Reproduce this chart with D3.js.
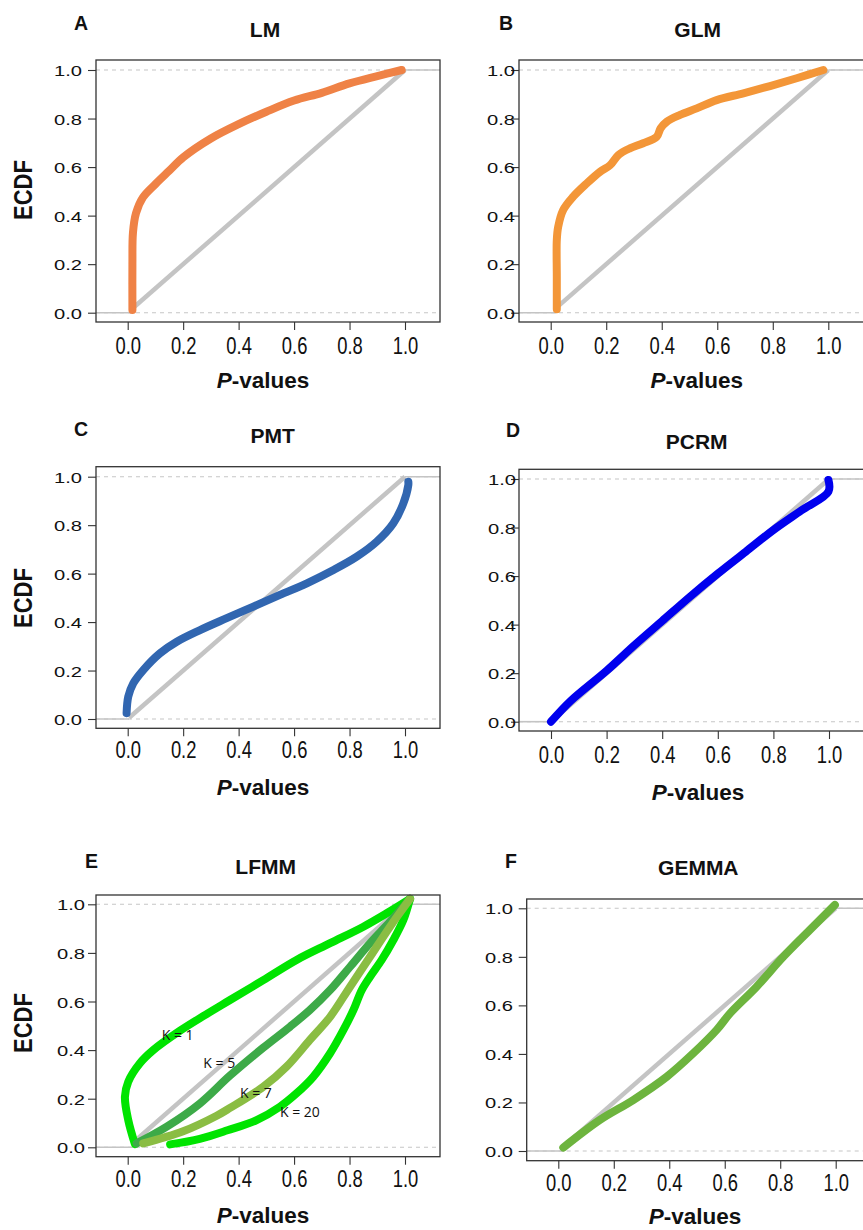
<!DOCTYPE html>
<html>
<head>
<meta charset="utf-8">
<script src="https://cdn.jsdelivr.net/npm/d3@7"></script>
<style>
  html, body { margin: 0; padding: 0; background: #fff; }
  svg { display: block; }
  text { font-family: "Liberation Sans", Arial, Helvetica, sans-serif; fill: #111; }
</style>
</head>
<body>
<svg id="chart" width="863" height="1230"></svg>
<script>
// ---------- data ----------
const xTicks = [0, 0.2, 0.4, 0.6, 0.8, 1.0];
const yTicks = [0, 0.2, 0.4, 0.6, 0.8, 1.0];
const panelLetters = ["A", "B", "C", "D", "E", "F"];
const panelTitles = ["LM", "GLM", "PMT", "PCRM", "LFMM", "GEMMA"];

const lmP  = [0.017, 0.017, 0.019, 0.03, 0.055, 0.1, 0.15, 0.2, 0.3, 0.4, 0.5, 0.6, 0.7, 0.8, 0.9, 0.988];
const lmF  = [0.011, 0.2, 0.33, 0.41, 0.475, 0.53, 0.585, 0.64, 0.718, 0.777, 0.828, 0.874, 0.906, 0.945, 0.975, 1.0];

const glmP = [0.022, 0.022, 0.022, 0.027, 0.045, 0.081, 0.13, 0.178, 0.214, 0.244, 0.285, 0.333, 0.382, 0.396, 0.418, 0.466, 0.526, 0.598, 0.694, 0.79, 0.886, 0.982];
const glmF = [0.014, 0.15, 0.3, 0.354, 0.423, 0.478, 0.533, 0.581, 0.608, 0.65, 0.677, 0.698, 0.725, 0.76, 0.787, 0.815, 0.842, 0.876, 0.904, 0.934, 0.966, 1.0];

const pmtP = [-0.004, 0.002, 0.02, 0.056, 0.116, 0.177, 0.261, 0.357, 0.453, 0.549, 0.646, 0.742, 0.826, 0.898, 0.958, 0.994, 1.012, 1.012];
const pmtF = [0.024, 0.092, 0.147, 0.202, 0.271, 0.319, 0.367, 0.416, 0.464, 0.512, 0.56, 0.615, 0.67, 0.732, 0.808, 0.89, 0.966, 0.979];

const pcrmP = [0, 0.07, 0.2, 0.3, 0.4, 0.5, 0.6, 0.7, 0.8, 0.9, 0.998, 0.998];
const pcrmF = [0, 0.085, 0.21, 0.315, 0.415, 0.515, 0.61, 0.7, 0.79, 0.87, 0.948, 0.996];

const k1P  = [0.026, 0.002, -0.01, 0.002, 0.044, 0.092, 0.189, 0.28, 0.369, 0.489, 0.609, 0.73, 0.85, 0.934, 1.018];
const k1F  = [0.013, 0.112, 0.208, 0.27, 0.346, 0.4, 0.48, 0.545, 0.606, 0.688, 0.771, 0.84, 0.908, 0.963, 1.022];
const k5P  = [0.032, 0.141, 0.26, 0.369, 0.489, 0.585, 0.657, 0.73, 0.802, 0.874, 0.946, 1.018];
const k5F  = [0.016, 0.085, 0.18, 0.295, 0.41, 0.496, 0.565, 0.647, 0.743, 0.84, 0.928, 1.022];
const k7P  = [0.056, 0.2, 0.321, 0.369, 0.489, 0.573, 0.657, 0.73, 0.802, 0.874, 0.946, 1.018];
const k7F  = [0.016, 0.066, 0.13, 0.162, 0.249, 0.332, 0.442, 0.537, 0.661, 0.784, 0.908, 1.022];
const k20P = [0.153, 0.26, 0.36, 0.465, 0.549, 0.609, 0.669, 0.73, 0.778, 0.814, 0.844, 0.874, 0.916, 0.958, 0.994, 1.018];
const k20F = [0.012, 0.035, 0.07, 0.112, 0.167, 0.222, 0.29, 0.387, 0.483, 0.565, 0.647, 0.702, 0.771, 0.853, 0.935, 1.022];
const kLabels = ["K = 1", "K = 5", "K = 7", "K = 20"];

const gemP = [0.018, 0.15, 0.27, 0.391, 0.487, 0.571, 0.619, 0.715, 0.811, 0.907, 0.997];
const gemF = [0.014, 0.128, 0.21, 0.306, 0.403, 0.499, 0.567, 0.677, 0.8, 0.911, 1.014];

const refStart = [0.015, 0.02, 0.005, 0, 0.03, 0.02];

// ---------- layout / style ----------
const layout = [
  { box: [96, 60, 440, 322],    xr: [127.7, 405],   yr: [312.7, 70],    letter: [74, 30],   title: [265, 37],    yLabX: 82,  xLabY: 354,   pLab: [263, 388],  ecdf: [32, 190] },
  { box: [519, 60, 890, 322],   xr: [550.7, 828.3], yr: [312.7, 70],    letter: [499, 30],  title: [697.7, 37],  yLabX: 515, xLabY: 353.5, pLab: [696.7, 388] },
  { box: [96, 466.7, 440, 728.3], xr: [127.7, 405], yr: [719, 476.7],   letter: [74, 436],  title: [272.7, 443], yLabX: 82,  xLabY: 758.3, pLab: [263, 795],  ecdf: [32, 598] },
  { box: [519, 469.3, 890, 731], xr: [551, 829],    yr: [721.7, 479],   letter: [506, 437], title: [696.7, 449], yLabX: 516, xLabY: 762.5, pLab: [698, 800] },
  { box: [96, 895, 440, 1156.7], xr: [127.7, 405],  yr: [1147.3, 904.3], letter: [85, 868], title: [265.7, 874], yLabX: 85,  xLabY: 1187.3, pLab: [263, 1223], ecdf: [32, 1023] },
  { box: [526.7, 899, 890, 1160.7], xr: [558.3, 835.7], yr: [1151, 908.3], letter: [505, 868], title: [698.3, 875], yLabX: 513, xLabY: 1190.5, pLab: [695, 1224] }
];
const kLabelPos = [[161.7, 1040], [203.3, 1067.7], [240, 1098.3], [280, 1117.3]];

const series = [
  [{ p: lmP, f: lmF, color: "#EF8246" }],
  [{ p: glmP, f: glmF, color: "#F39638" }],
  [{ p: pmtP, f: pmtF, color: "#3166B0" }],
  [{ p: pcrmP, f: pcrmF, color: "#0000EE" }],
  [
    { p: k1P, f: k1F, color: "#00E400" },
    { p: k20P, f: k20F, color: "#00E400" },
    { p: k5P, f: k5F, color: "#3DAA48" },
    { p: k7P, f: k7F, color: "#8ABD43" }
  ],
  [{ p: gemP, f: gemF, color: "#6DB43E" }]
];

const svg = d3.select("#chart");

layout.forEach((L, i) => {
  const [bx0, by0, bx1, by1] = L.box;
  const x = d3.scaleLinear().domain([0, 1]).range(L.xr);
  const y = d3.scaleLinear().domain([0, 1]).range(L.yr);
  const g = svg.append("g");

  // panel letter & title
  g.append("text").attr("x", L.letter[0]).attr("y", L.letter[1])
    .attr("font-size", 19.5).attr("font-weight", "bold").text(panelLetters[i]);
  g.append("text").attr("x", L.title[0]).attr("y", L.title[1])
    .attr("text-anchor", "middle").attr("font-size", 21).attr("font-weight", "bold").text(panelTitles[i]);

  // reference lines (dashed at 0 and 1)
  [0, 1].forEach(v => {
    g.append("line").attr("x1", bx0).attr("x2", bx1).attr("y1", y(v)).attr("y2", y(v))
      .attr("stroke", "#c6c6c6").attr("stroke-width", 1.1).attr("stroke-dasharray", "4,4");
  });
  // ECDF tails of the uniform reference (solid)
  const xMin = x.invert(bx0), xMax = x.invert(bx1);
  g.append("line").attr("x1", x(xMin)).attr("x2", x(refStart[i])).attr("y1", y(0)).attr("y2", y(0))
    .attr("stroke", "#c4c4c4").attr("stroke-width", 1.6);
  g.append("line").attr("x1", x(1)).attr("x2", x(xMax)).attr("y1", y(1)).attr("y2", y(1))
    .attr("stroke", "#c4c4c4").attr("stroke-width", 1.6);
  // uniform reference diagonal
  g.append("line").attr("x1", x(refStart[i])).attr("y1", y(refStart[i])).attr("x2", x(1)).attr("y2", y(1))
    .attr("stroke", "#c4c4c4").attr("stroke-width", 4.5);

  // curves
  const line = d3.line().x(d => x(d[0])).y(d => y(d[1])).curve(d3.curveCatmullRom.alpha(0.5));
  series[i].forEach(s => {
    const pts = s.p.map((v, k) => [v, s.f[k]]);
    g.append("path").attr("d", line(pts)).attr("fill", "none")
      .attr("stroke", s.color).attr("stroke-width", 8)
      .attr("stroke-linecap", "round").attr("stroke-linejoin", "round");
  });

  // box
  g.append("rect").attr("x", bx0).attr("y", by0).attr("width", bx1 - bx0).attr("height", by1 - by0)
    .attr("fill", "none").attr("stroke", "#333").attr("stroke-width", 1.3);

  // x axis
  const xa = g.append("g").attr("transform", `translate(0,${by1})`)
    .call(d3.axisBottom(x).tickValues(xTicks).tickSize(8).tickFormat(d3.format(".1f")));
  xa.select(".domain").remove();
  xa.selectAll(".tick line").attr("stroke", "#333").attr("stroke-width", 1.1);
  xa.selectAll(".tick text")
    .attr("y", 0).attr("dy", null)
    .attr("transform", `translate(0,${L.xLabY - by1}) scale(0.8,1)`)
    .attr("font-size", 23).attr("fill", "#111")
    .style("font-family", '"Liberation Sans", Arial, sans-serif');

  // y axis
  const ya = g.append("g").attr("transform", `translate(${bx0},0)`)
    .call(d3.axisLeft(y).tickValues(yTicks).tickSize(8).tickFormat(d3.format(".1f")));
  ya.select(".domain").remove();
  ya.selectAll(".tick line").attr("stroke", "#333").attr("stroke-width", 1.1);
  ya.selectAll(".tick text")
    .attr("x", 0).attr("dy", null).attr("text-anchor", "end")
    .attr("transform", `translate(${L.yLabX - bx0},5.5) scale(1.3,1)`)
    .attr("font-size", 15.5).attr("fill", "#111")
    .style("font-family", '"Liberation Sans", Arial, sans-serif');

  // x label
  const xl = g.append("text").attr("x", L.pLab[0]).attr("y", L.pLab[1])
    .attr("text-anchor", "middle").attr("font-size", 22.5).attr("font-weight", "bold");
  xl.append("tspan").attr("font-style", "italic").text("P");
  xl.append("tspan").text("-values");

  // y label
  if (L.ecdf) {
    g.append("text").attr("transform", `translate(${L.ecdf[0]},${L.ecdf[1]}) scale(1.17,1) rotate(-90)`)
      .attr("text-anchor", "middle").attr("font-size", 22).attr("font-weight", "bold").text("ECDF");
  }
});

// K labels in panel E
svg.append("g").selectAll("text").data(kLabels).join("text")
  .attr("x", (d, k) => kLabelPos[k][0]).attr("y", (d, k) => kLabelPos[k][1])
  .attr("font-size", 14).style("font-family", '"Open Sans", sans-serif').attr("fill", "#000")
  .text(d => d);
</script>
</body>
</html>
